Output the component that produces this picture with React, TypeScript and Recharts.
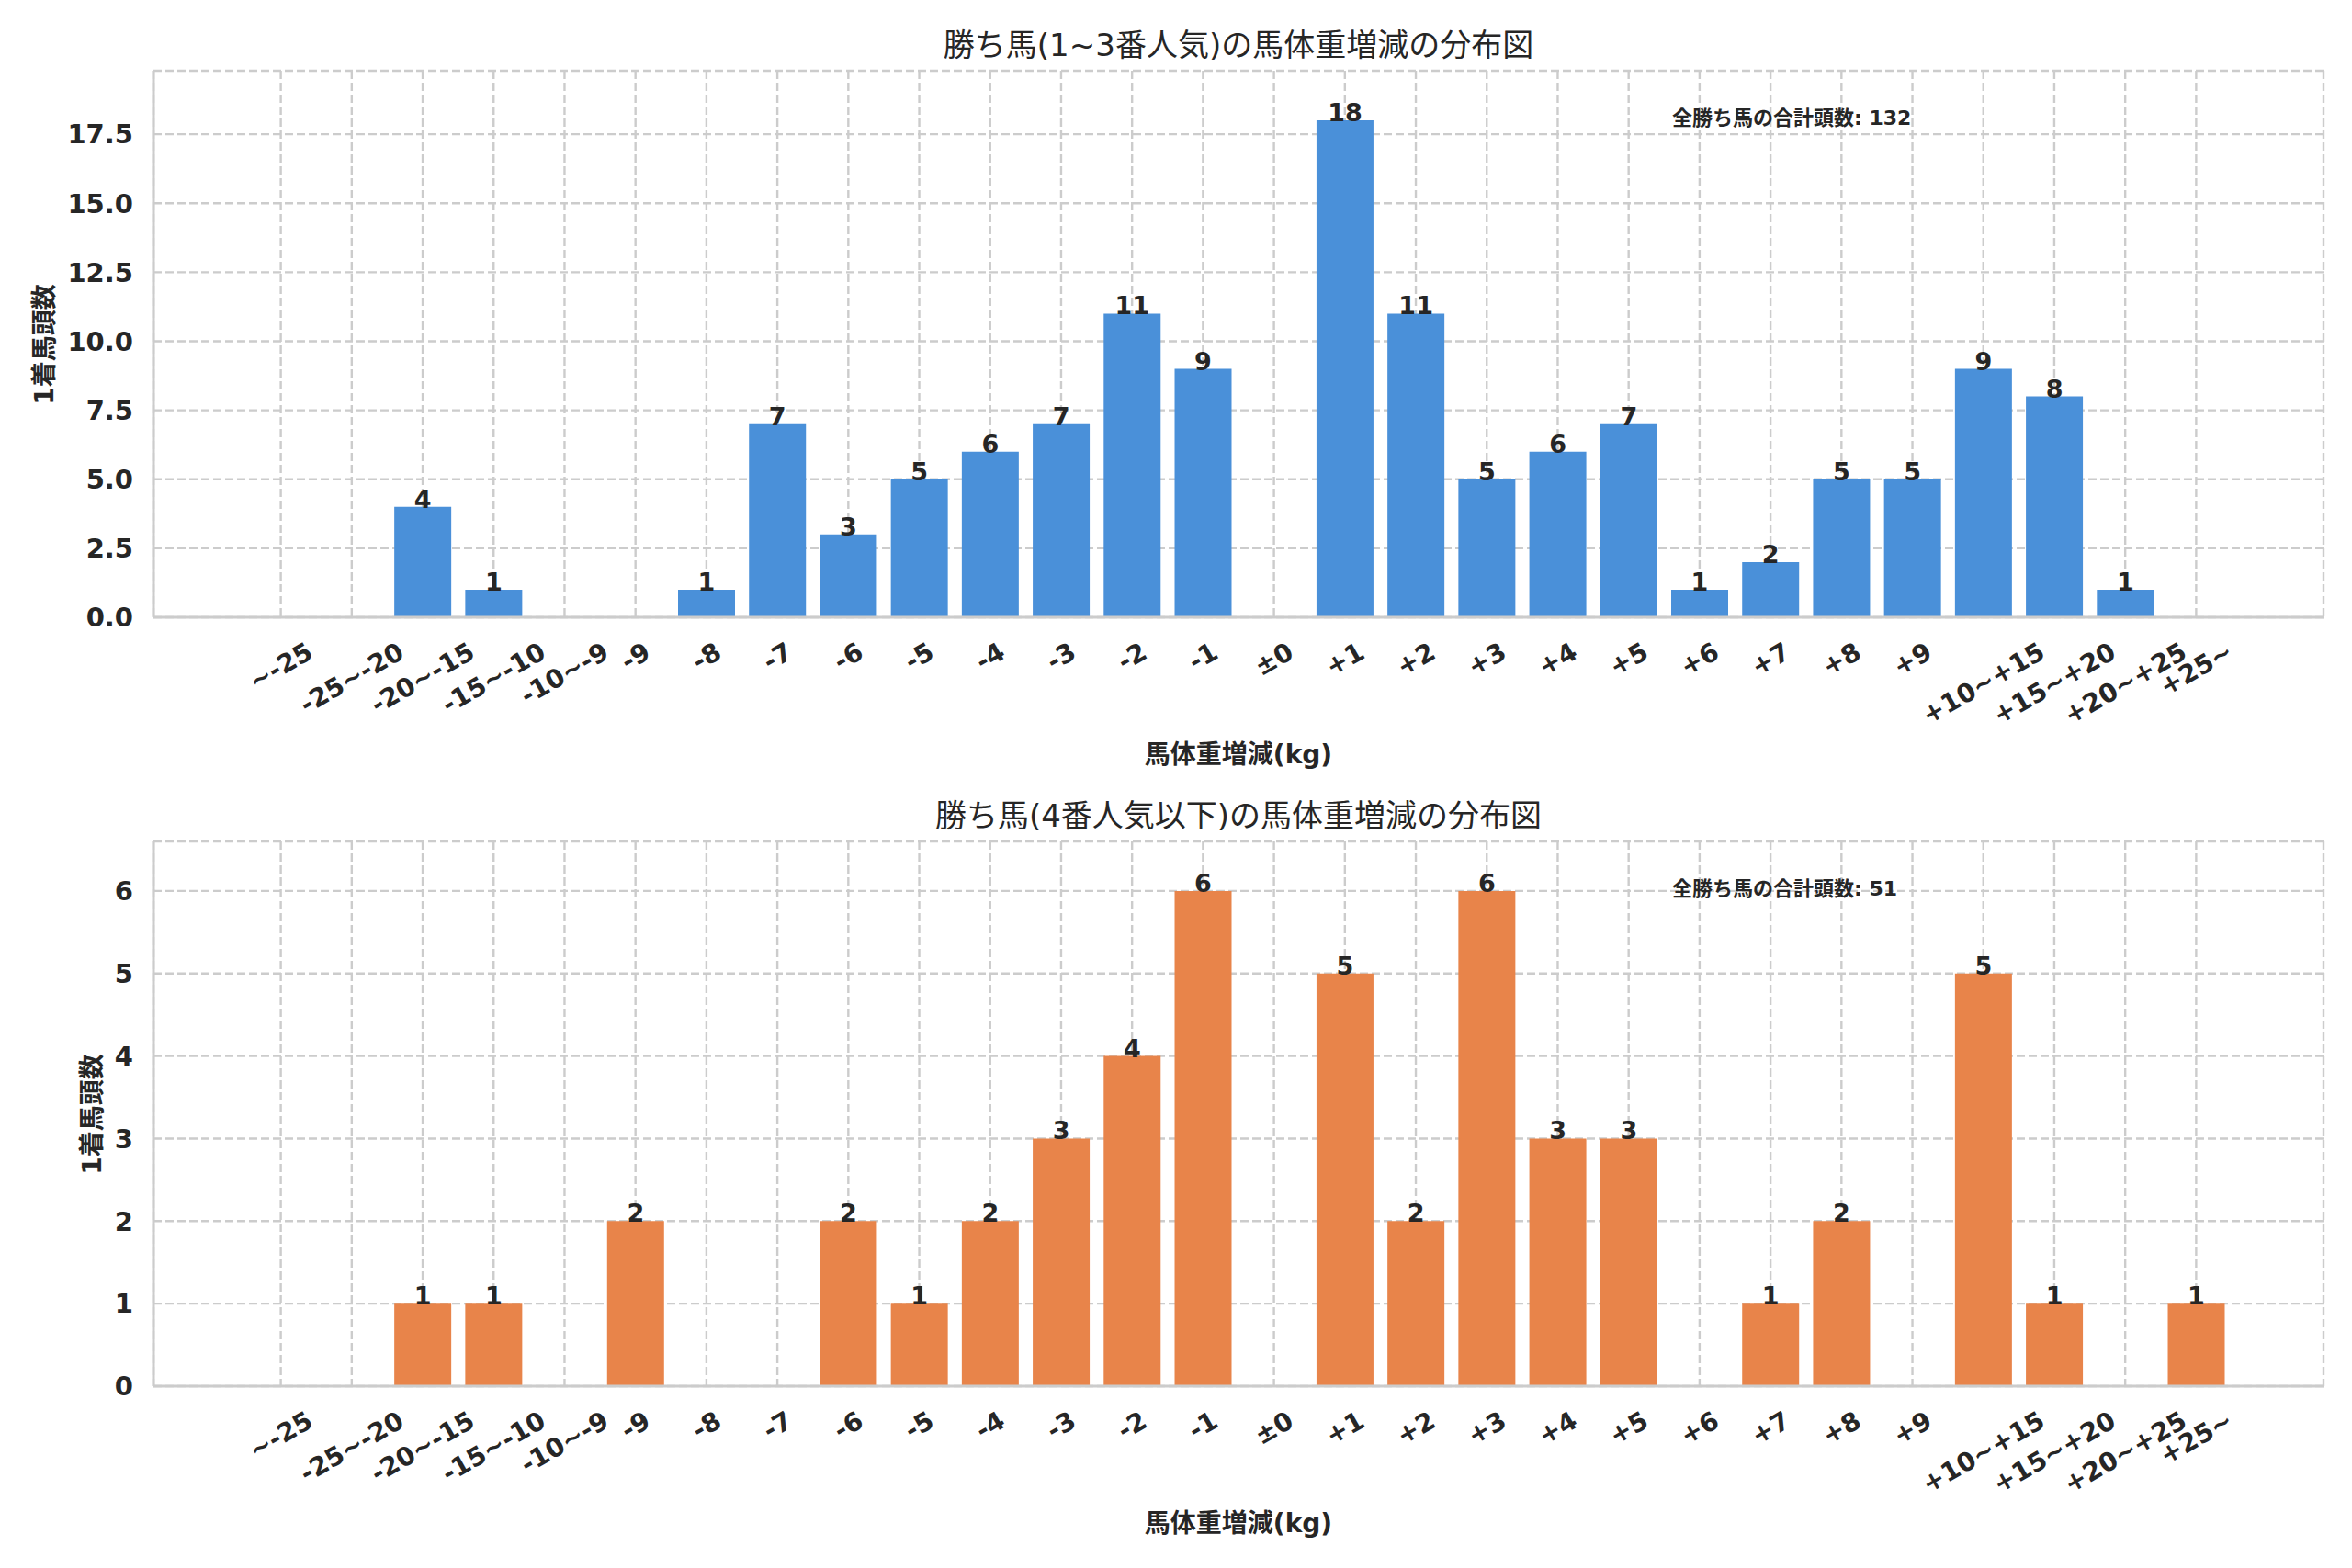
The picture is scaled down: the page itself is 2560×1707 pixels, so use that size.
import React from 'react';
import {
  BarChart,
  Bar,
  XAxis,
  YAxis,
  CartesianGrid,
  LabelList,
} from 'recharts';

// weight change buckets
const categories = [
  '~-25', '-25~-20', '-20~-15', '-15~-10', '-10~-9',
  '-9', '-8', '-7', '-6', '-5', '-4', '-3', '-2', '-1',
  '±0',
  '+1', '+2', '+3', '+4', '+5', '+6', '+7', '+8', '+9',
  '+10~+15', '+15~+20', '+20~+25', '+25~',
];

// 1~3番人気 の勝ち馬
const favCounts = [0, 0, 4, 1, 0, 0, 1, 7, 3, 5, 6, 7, 11, 9, 0, 18, 11, 5, 6, 7, 1, 2, 5, 5, 9, 8, 1, 0];
// 4番人気以下 の勝ち馬
const longshotCounts = [0, 0, 1, 1, 0, 2, 0, 0, 2, 1, 2, 3, 4, 6, 0, 5, 2, 6, 3, 3, 0, 1, 2, 0, 5, 1, 0, 1];

const favTicks = [0, 2.5, 5, 7.5, 10, 12.5, 15, 17.5];
const longshotTicks = [0, 1, 2, 3, 4, 5, 6];

const FONT = '"DejaVu Sans", "Noto Sans CJK JP", sans-serif';
const TEXT = '#262626';
const GRID = '#cccccc';

if (typeof document !== 'undefined') {
  document.body.style.margin = '0';
}

const charW = (c: string) => (/[0-9]/.test(c) ? 0.696 : c === '-' ? 0.415 : 0.838);

// rotated tick label, bbox centred under the tick like matplotlib
const XTick = (props: any) => {
  const { x, y, payload } = props;
  const f = 28;
  const label = String(payload.value);
  const len = [...label].reduce((s, c) => s + charW(c), 0) * f;
  const boxH = len * 0.5 + f * 0.9 * 0.866;
  const cy = y + 22 + boxH / 2;
  return (
    <text
      x={x}
      y={cy}
      transform={`rotate(-30 ${x} ${cy})`}
      textAnchor="middle"
      dominantBaseline="central"
      fontFamily={FONT}
      fontWeight="bold"
      fontSize={f}
      fill={TEXT}
    >
      {label}
    </text>
  );
};

const BarValue = (props: any) => {
  const { x, y, width, value } = props;
  if (!value) return null;
  return (
    <text
      x={Number(x) + Number(width) / 2}
      y={Number(y) + 1}
      textAnchor="middle"
      fontFamily={FONT}
      fontWeight="bold"
      fontSize={27}
      fill={TEXT}
    >
      {value}
    </text>
  );
};

interface PanelProps {
  top: number;
  height: number;
  marginTop: number;
  marginBottom: number;
  dataKey: string;
  color: string;
  ticks: number[];
  yMax: number;
  decimals: number;
  title: string;
  total: number;
  ylabelX: number;
}

const data = categories.map((cat, i) => ({
  cat,
  fav: favCounts[i],
  longshot: longshotCounts[i],
}));

function Panel({
  top, height, marginTop, marginBottom, dataKey, color, ticks, yMax, decimals, title, total, ylabelX,
}: PanelProps) {
  const plotTop = marginTop;
  const plotBottom = height - marginBottom - 150;
  const axisStyle = { stroke: GRID, strokeWidth: 3 };
  return (
    <div style={{ position: 'absolute', left: 0, top, width: 2560, height }}>
      <BarChart
        width={2560}
        height={height}
        data={data}
        margin={{ top: marginTop, right: 31, bottom: marginBottom, left: 0 }}
        barCategoryGap="10%"
      >
        <CartesianGrid stroke={GRID} strokeWidth={2.4} strokeDasharray="9 4" />
        <XAxis
          dataKey="cat"
          interval={0}
          height={150}
          padding={{ left: 100, right: 100 }}
          tickLine={false}
          tickSize={0}
          axisLine={axisStyle}
          tick={<XTick />}
        />
        <XAxis
          xAxisId="t"
          dataKey="cat"
          orientation="top"
          height={0}
          tick={false}
          tickLine={false}
          axisLine={axisStyle}
        />
        <YAxis
          width={167}
          domain={[0, yMax]}
          ticks={ticks}
          tickFormatter={(v: number) => v.toFixed(decimals)}
          tickLine={false}
          tickSize={0}
          tickMargin={22}
          axisLine={axisStyle}
          tick={{ fontFamily: FONT, fontWeight: 'bold', fontSize: 29, fill: TEXT }}
        />
        <YAxis
          yAxisId="r"
          orientation="right"
          width={0}
          tick={false}
          tickLine={false}
          axisLine={axisStyle}
        />
        <Bar dataKey={dataKey} fill={color} isAnimationActive={false}>
          <LabelList dataKey={dataKey} content={<BarValue />} />
        </Bar>
      </BarChart>

      <div
        style={{
          position: 'absolute', left: 1348, top: plotTop - 28, transform: 'translate(-50%, -50%)',
          fontFamily: FONT, fontSize: 34, color: TEXT, whiteSpace: 'nowrap', lineHeight: 1,
        }}
      >
        {title}
      </div>
      <div
        style={{
          position: 'absolute', left: 1820, top: plotTop + 52, transform: 'translateY(-50%)',
          fontFamily: FONT, fontSize: 22, fontWeight: 'bold', color: TEXT, whiteSpace: 'nowrap', lineHeight: 1,
        }}
      >
        {`全勝ち馬の合計頭数: ${total}`}
      </div>
      <div
        style={{
          position: 'absolute', left: 1348, top: plotBottom + 150, transform: 'translate(-50%, -50%)',
          fontFamily: FONT, fontSize: 28, fontWeight: 'bold', color: TEXT, whiteSpace: 'nowrap', lineHeight: 1,
        }}
      >
        馬体重増減(kg)
      </div>
      <div
        style={{
          position: 'absolute', left: ylabelX, top: (plotTop + plotBottom) / 2,
          transform: 'translate(-50%, -50%) rotate(-90deg)',
          fontFamily: FONT, fontSize: 28, fontWeight: 'bold', color: TEXT, whiteSpace: 'nowrap', lineHeight: 1,
        }}
      >
        1着馬頭数
      </div>
    </div>
  );
}

const sum = (arr: number[]) => arr.reduce((a, b) => a + b, 0);

export default function App() {
  return (
    <div style={{ position: 'relative', width: 2560, height: 1707, background: '#ffffff' }}>
      <Panel
        top={0}
        height={853}
        marginTop={77}
        marginBottom={31}
        dataKey="fav"
        color="#4a90d9"
        ticks={favTicks}
        yMax={Math.max(...favCounts) * 1.1}
        decimals={1}
        title="勝ち馬(1~3番人気)の馬体重増減の分布図"
        total={sum(favCounts)}
        ylabelX={49}
      />
      <Panel
        top={853}
        height={854}
        marginTop={63}
        marginBottom={48}
        dataKey="longshot"
        color="#e8844a"
        ticks={longshotTicks}
        yMax={Math.max(...longshotCounts) * 1.1}
        decimals={0}
        title="勝ち馬(4番人気以下)の馬体重増減の分布図"
        total={sum(longshotCounts)}
        ylabelX={101}
      />
    </div>
  );
}
